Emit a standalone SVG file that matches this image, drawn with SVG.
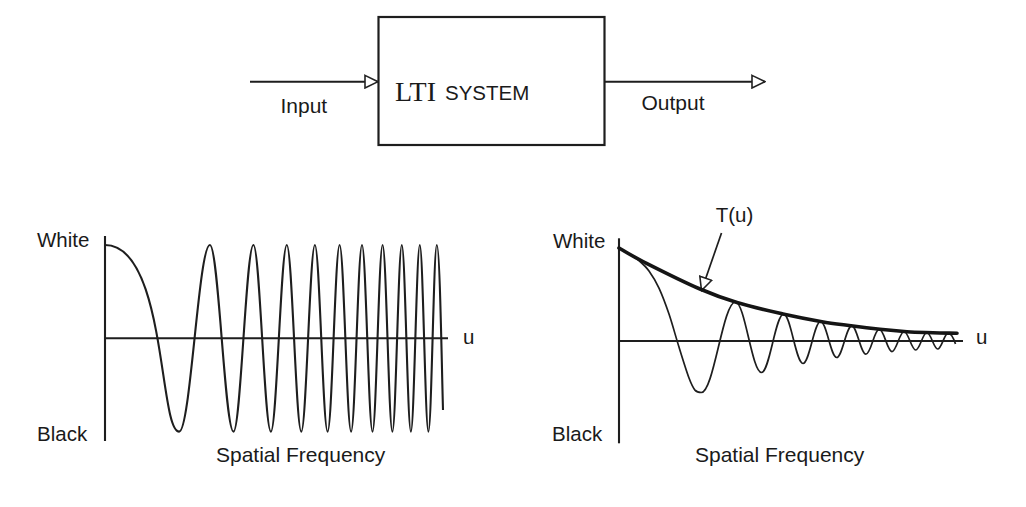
<svg xmlns="http://www.w3.org/2000/svg" width="1026" height="507" viewBox="0 0 1026 507">
  <style>
    .ln { fill: none; stroke: #1e1e1e; stroke-width: 2.1; stroke-linecap: butt; stroke-linejoin: round; }
    .thin { fill: none; stroke: #1e1e1e; stroke-width: 1.7; stroke-linejoin: round; }
    .env { fill: none; stroke: #151515; stroke-width: 3.6; stroke-linecap: round; }
    .t { font-family: "Liberation Sans", Arial, sans-serif; font-size: 20.5px; fill: #1a1a1a; }
    .t21 { font-size: 21px; }
    .serif { font-family: "Liberation Serif", "Times New Roman", serif; font-size: 28px; fill: #1a1a1a; }
  </style>
  <defs>
    <marker id="hollow" viewBox="0 0 15 15" refX="14" refY="7.5" markerWidth="15" markerHeight="15" markerUnits="userSpaceOnUse" orient="auto">
      <path d="M1,1.2 L14,7.5 L1,13.8 Z" fill="#fff" stroke="#222" stroke-width="1.6" stroke-linejoin="miter"/>
    </marker>
  </defs>
  <rect width="1026" height="507" fill="#fff"/>

  <g id="system-box">
    <rect x="378.5" y="17" width="226" height="128" fill="#fff" stroke="#1e1e1e" stroke-width="2.2"/>
    <text class="serif" x="395" y="100.7">LTI</text>
    <text class="t" x="445" y="100">SYSTEM</text>
  </g>

  <g id="connectors">
    <line class="ln" x1="250" y1="81.7" x2="378" y2="81.7" marker-end="url(#hollow)"/>
    <line class="ln" x1="605" y1="81.7" x2="765" y2="81.7" marker-end="url(#hollow)"/>
    <line class="thin" x1="721.5" y1="233" x2="701.5" y2="290.5" marker-end="url(#hollow)"/>
  </g>

  <g id="labels-io">
    <text class="t t21" x="280.5" y="113.3">Input</text>
    <text class="t t21" x="641.5" y="110">Output</text>
  </g>

  <g id="input-chart">
    <line class="ln" x1="105" y1="236" x2="105" y2="441"/>
    <line class="ln" x1="105" y1="338.3" x2="448" y2="338.3"/>
    <path class="ln" d="M105,245 C166.3,245 158.9,431.6 179.2,431.6
      C190.4,431.6 198.7,245 209.9,245
      C218.5,245 224.9,431.6 233.5,431.6
      C240.7,431.6 246.2,245 253.4,245
      C259.8,245 264.5,431.6 270.9,431.6
      C276.7,431.6 281,245 286.8,245
      C292.1,245 296,431.6 301.3,431.6
      C306.2,431.6 310,245 314.9,245
      C319.5,245 323,431.6 327.6,431.6
      C332,431.6 335.2,245 339.6,245
      C343.8,245 346.9,431.6 351.1,431.6
      C355.1,431.6 358,245 362,245
      C365.8,245 368.7,431.6 372.5,431.6
      C376.2,431.6 378.9,245 382.6,245
      C386.2,245 388.8,431.6 392.4,431.6
      C395.8,431.6 398.4,245 401.8,245
      C405.1,245 407.6,431.6 410.9,431.6
      C414.1,431.6 416.6,245 419.8,245
      C422.9,245 425.3,431.6 428.4,431.6
      C431.5,431.6 433.7,245 436.8,245
      C439.8,245 441.6,360 443,410"/>
    <text class="t" x="37" y="246.7">White</text>
    <text class="t" x="37" y="440.7">Black</text>
    <text class="t" x="463" y="343.5">u</text>
    <text class="t t21" x="216" y="461.5">Spatial Frequency</text>
  </g>

  <g id="output-chart">
    <line class="ln" x1="619" y1="238.3" x2="619" y2="443.3"/>
    <line class="ln" x1="619" y1="341" x2="963" y2="341"/>
    <path class="thin" d="M619,248 C622.3,249.9 625.7,251.6 629,253.7
      C632.3,255.8 635.7,257.7 639,260.6
      C642.3,263.5 645.7,266.4 649,271
      C652.3,275.6 655.7,280.9 659,288.1
      C662.3,295.3 665.7,304.3 669,314.1
      C672.3,323.9 675.7,336.5 679,347.1
      C682.3,357.8 686.3,370.8 689,378
      C691.7,385.2 693,387.7 695,390.1
      C697.1,392.5 699.3,392.5 701.3,392.5
      C713.7,392.5 723,302 735.4,302
      C744.9,302 752,372.5 761.5,372.5
      C769.5,372.5 775.6,314 783.6,314
      C790.7,314 795.9,363.5 803,363.5
      C809.4,363.5 814.2,321.5 820.6,321.5
      C826.5,321.5 830.8,357.5 836.7,357.5
      C842.2,357.5 846.3,325.8 851.8,325.8
      C856.9,325.8 860.8,354.2 865.9,354.2
      C870.8,354.2 874.4,329.2 879.3,329.2
      C883.9,329.2 887.4,351.6 892,351.6
      C896.4,351.6 899.7,331.5 904.1,331.5
      C908.3,331.5 911.5,350 915.7,350
      C919.8,350 922.8,332.5 926.9,332.5
      C930.8,332.5 933.8,349 937.7,349
      C941.5,349 944.4,333.1 948.2,333.1
      C951,333.1 953.5,338 955.5,344"/>
    <path class="env" d="M619,248 C627,252.8 635,257.45 643,261.5
      C662,271.1 681,280.8 700,289
      C712.3,294.3 724.7,298.8 737,302.5
      C752.3,307.1 767.7,310.5 783,314
      C796,316.9 809,319.5 822,321.7
      C832.3,323.5 842.7,324.6 853,326
      C862,327.2 871,328.3 880,329.3
      C889,330.3 898,331.1 907,331.7
      C915.7,332.3 924.3,332.4 933,332.7
      C941,333 949,333.1 957,333.3"/>
    <text class="t" x="553" y="248.3">White</text>
    <text class="t" x="552" y="440.7">Black</text>
    <text class="t" x="976" y="343.5">u</text>
    <text class="t t21" x="695" y="461.5">Spatial Frequency</text>
    <text class="t" x="715.7" y="221.7">T(u)</text>
  </g>
</svg>
